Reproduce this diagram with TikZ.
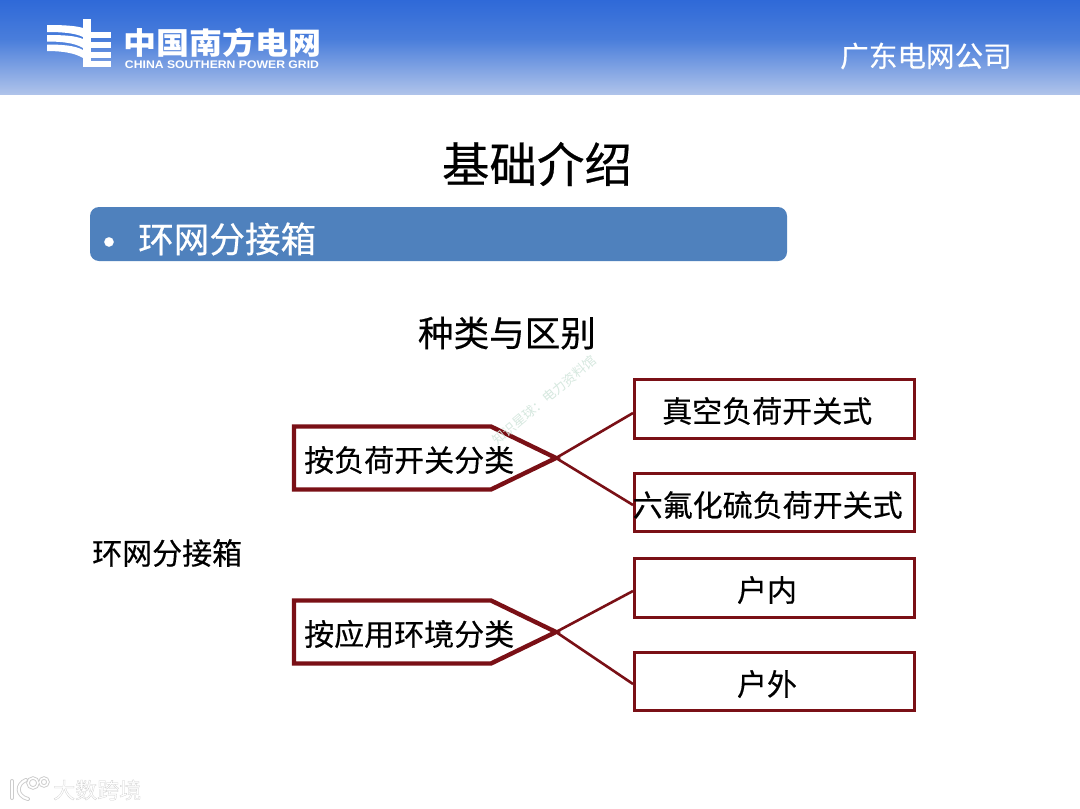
\documentclass[tikz,border=0pt]{standalone}
\usepackage{fontspec}
\setmainfont[FakeBold=0.4]{Noto Sans CJK SC}
\newfontfamily\latinf{Liberation Sans}
\newfontfamily\plainf{Noto Sans CJK SC}
\newfontfamily\haloface[FakeBold=1.2]{Noto Sans CJK SC}
\newcommand{\fs}[1]{\fontsize{#1}{#1}\selectfont}
\definecolor{dred}{HTML}{7A1016}
\definecolor{barblue}{HTML}{4F81BD}
\definecolor{hdB}{HTML}{2F69D8}
\definecolor{hdC}{HTML}{4A7EDB}
\definecolor{hdD}{HTML}{AFC3EA}
\definecolor{wm}{HTML}{D6E8DF}
\definecolor{glow}{HTML}{CCCCCC}
\tikzset{
  optbox/.style={draw=dred,line width=3pt,fill=white,outer sep=0pt,minimum width=280pt,minimum height=58.5pt,inner sep=0pt,anchor=north west},
  penta/.style={draw=dred,line width=4.4pt,fill=white,line join=miter,miter limit=3},
  wire/.style={draw=dred,line width=2.6pt},
  lbl/.style={font=\fs{30},text=black,inner sep=0pt,anchor=west},
  hd/.style={inner sep=0pt,text=white},
  logo/.style={fill=white,draw=none},
  wmtext/.style={inner sep=0pt,font=\haloface\fs{22},anchor=west}
}
\begin{document}
\begin{tikzpicture}[x=1pt,y=-1pt]
\useasboundingbox (0,0) rectangle (1080,809);
\fill[white] (0,0) rectangle (1080,809);
% header
\shade[top color=hdB,bottom color=hdC,draw=none] (0,0) rectangle (1080,40);
\shade[top color=hdC,bottom color=hdD,draw=none] (0,39.5) rectangle (1080,94);
% logo
\fill[logo] (83,19) rectangle (91,67);
\fill[logo] (91,32) rectangle (111,38);
\fill[logo] (91,42) rectangle (111,48);
\fill[logo] (91,52) rectangle (111,57.5);
\fill[logo] (91,61) rectangle (111,67);
\fill[logo] (47,25) .. controls (62,25) and (75,25.5) .. (83,28) -- (83,37) .. controls (75,33) and (62,32) .. (47,32) -- cycle;
\fill[logo] (47,35) .. controls (62,35) and (75,35.5) .. (83,39) -- (83,48) .. controls (75,43) and (62,41.5) .. (47,41.5) -- cycle;
\fill[logo] (47,44.5) .. controls (62,44.5) and (75,45.5) .. (83,50) -- (83,58) .. controls (75,53) and (62,51) .. (47,51) -- cycle;
\node[hd,font=\plainf\fs{33}\bfseries,anchor=center,yscale=0.92] (brandcn) at (222,43) {中国南方电网};
\node[hd,font=\latinf\fs{11}\bfseries,anchor=center,xscale=1.11] (branden) at (222,64.5) {CHINA SOUTHERN POWER GRID};
\node[hd,font=\fs{28.6},anchor=center,text=white] (company) at (926,56) {广东电网公司};
% title
\node[inner sep=0pt,font=\fs{47.5},anchor=center] (title) at (537,164) {基础介绍};
\fill[barblue,rounded corners=9pt] (90,207) rectangle (787,261);
\node[hd,font=\fs{44},anchor=center] (barbullet) at (109,248) {•};
\node[hd,font=\fs{35.6},anchor=west] (bartext) at (138,239) {环网分接箱};
\node[inner sep=0pt,font=\fs{35.6},anchor=center] (sub) at (507,333) {种类与区别};
% option boxes
\node[optbox] (b1) at (634.5,379.5) {};
\node[optbox] (b2) at (634.5,473) {};
\node[optbox] (b3) at (634.5,558.5) {};
\node[optbox] (b4) at (634.5,652) {};
\coordinate (b1in) at (633,413);
\coordinate (b2in) at (633,505);
\coordinate (b3in) at (633,591);
\coordinate (b4in) at (633,684);
% pentagons
\coordinate (tip1) at (556,458);
\coordinate (tip2) at (556,632);
\draw[penta] (294,426.5) -- (491,426.5) -- (tip1) -- (491,489.5) -- (294,489.5) -- cycle;
\draw[penta] (294,600.5) -- (491,600.5) -- (tip2) -- (491,663.5) -- (294,663.5) -- cycle;
\draw[wire] (tip1) -- (b1in);
\draw[wire] (tip1) -- (b2in);
\draw[wire] (tip2) -- (b3in);
\draw[wire] (tip2) -- (b4in);
% watermark
\node[inner sep=0pt,font=\plainf\fs{13},text=wm,rotate=40,anchor=center] (wmark) at (544,400) {知识星球：电力资料馆};
% labels
\node[lbl] (p1) at (304,460) {按负荷开关分类};
\node[lbl] (p2) at (304,634) {按应用环境分类};
\node[lbl] (root) at (92,553) {环网分接箱};
\node[lbl] (t1) at (662,411) {真空负荷开关式};
\node[lbl] (t2) at (632.5,505) {六氟化硫负荷开关式};
\node[lbl,anchor=center] (t3) at (767,590) {户内};
\node[lbl,anchor=center] (t4) at (767,684) {户外};
% bottom watermark
\node[wmtext,text=white] (wm2) at (53,790) {\special{pdf:code 0.8 G}大数跨境};
\draw[glow,line width=4pt,line cap=round] (12,781) -- (12,798);
\draw[glow,line width=4pt,line cap=round] (26,780) .. controls (16,784) and (16,796) .. (28,799);
\draw[glow,line width=3.4pt] (33,783) circle (5);
\draw[glow,line width=3.4pt] (44,782) circle (4);
\draw[white,line width=2.2pt,line cap=round] (12,781) -- (12,798);
\draw[white,line width=2.2pt,line cap=round] (26,780) .. controls (16,784) and (16,796) .. (28,799);
\draw[white,line width=1.6pt] (33,783) circle (5);
\draw[white,line width=1.6pt] (44,782) circle (4);
\end{tikzpicture}
\end{document}
